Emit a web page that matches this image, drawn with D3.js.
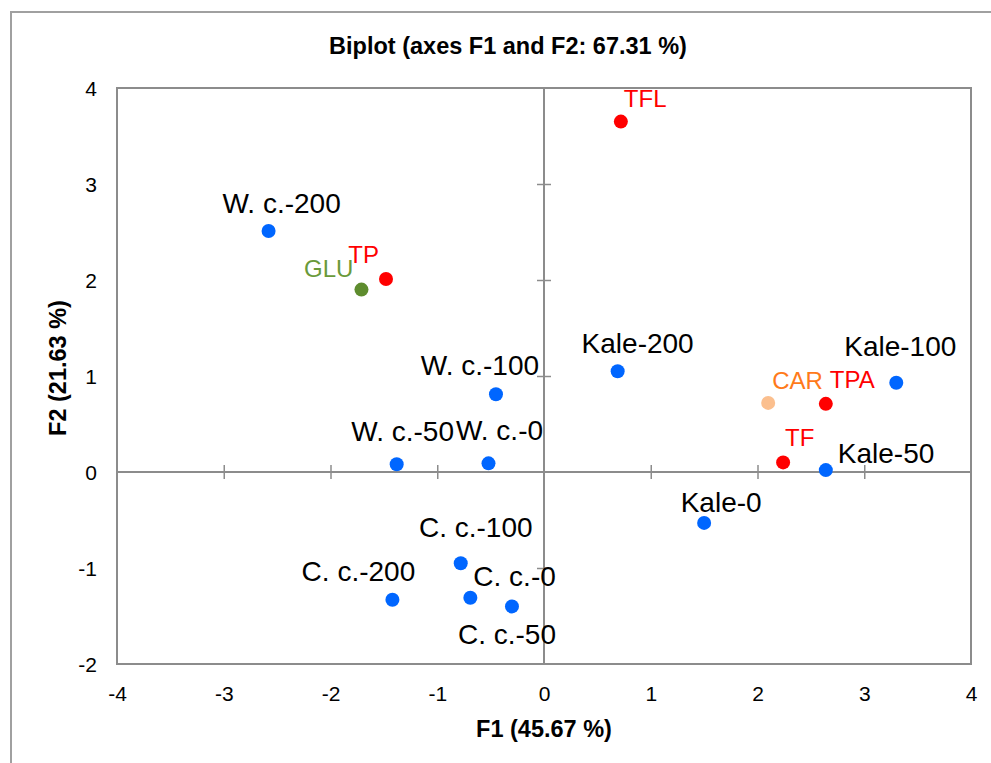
<!DOCTYPE html>
<html><head><meta charset="utf-8">
<script src="https://cdn.jsdelivr.net/npm/d3@7/dist/d3.min.js"></script>
<style>body{margin:0;background:#fff}svg{display:block;font-family:"Liberation Sans",Arial,sans-serif}</style>
</head><body><svg id="c" width="991" height="763"></svg>
<script>
// ---- data ----
const obsNames = ["W. c.-200","W. c.-100","W. c.-50","W. c.-0","C. c.-100","C. c.-200","C. c.-0","C. c.-50","Kale-200","Kale-100","Kale-50","Kale-0"];
const obsF1 = [-2.58,-0.45,-1.38,-0.52,-0.78,-1.42,-0.69,-0.30,0.69,3.30,2.64,1.50];
const obsF2 = [2.51,0.81,0.08,0.09,-0.95,-1.33,-1.31,-1.40,1.05,0.93,0.02,-0.53];
const varNames = ["TP","GLU","TFL","CAR","TPA","TF"];
const varF1 = [-1.48,-1.71,0.72,2.10,2.64,2.24];
const varF2 = [2.01,1.90,3.65,0.72,0.71,0.10];
const xTicks = [-4,-3,-2,-1,0,1,2,3,4];
const yTicks = [-2,-1,0,1,2,3,4];
const titleText = "Biplot (axes F1 and F2: 67.31 %)";
const xTitle = "F1 (45.67 %)";
const yTitle = "F2 (21.63 %)";

// ---- styles / layout (separate from data) ----
const varColors = {TP:"#ff0000",GLU:"#6a9a3a",TFL:"#ff0000",CAR:"#ff7a1a",TPA:"#ff0000",TF:"#ff0000"};
const varDotColors = {TP:"#ff0000",GLU:"#5e8c2e",TFL:"#ff0000",CAR:"#fbbf8e",TPA:"#ff0000",TF:"#ff0000"};
const obsLabelPos = {
 "W. c.-200":[13,-18,"middle"],"W. c.-100":[-16,-19,"middle"],"W. c.-50":[6,-23,"middle"],
 "W. c.-0":[11,-23,"middle"],"C. c.-100":[15,-26,"middle"],"C. c.-200":[-34,-19,"middle"],
 "C. c.-0":[3,-12,"start"],"C. c.-50":[-5,38,"middle"],"Kale-200":[20,-18,"middle"],
 "Kale-100":[4,-27,"middle"],"Kale-50":[12,-7,"start"],"Kale-0":[17,-11,"middle"]};
const varLabelPos = {TP:[-7,-16,"end"],GLU:[-8,-13,"end"],TFL:[3,-15,"start"],CAR:[4,-14,"start"],TPA:[4,-16,"start"],TF:[2,-16,"start"]};

const svg = d3.select("#c");
const L=117,R=971,T=88,B=664;
const x = d3.scaleLinear().domain([-4,4]).range([L,R]);
const y = d3.scaleLinear().domain([-2,4]).range([B,T]);
const grey="#8c8c8c";

// outer frame
svg.append("rect").attr("x",11).attr("y",12).attr("width",1100).attr("height",900)
  .attr("fill","none").attr("stroke","#a0a0a0").attr("stroke-width",2);

// title
svg.append("text").attr("x",508).attr("y",54).attr("text-anchor","middle")
  .attr("font-size",23.5).attr("font-weight","bold").text(titleText);

// plot frame
svg.append("rect").attr("x",L).attr("y",T).attr("width",R-L).attr("height",B-T)
  .attr("fill","none").attr("stroke",grey).attr("stroke-width",2);

// zero axes with ticks
const xAxisG = svg.append("g").attr("transform",`translate(0,${y(0)})`)
  .call(d3.axisBottom(x).tickValues(xTicks.filter(v=>v>-4&&v<4&&v!==0)).tickSize(0).tickFormat(""));
xAxisG.select(".domain").remove();
xAxisG.selectAll(".tick line").attr("y1",-7).attr("y2",7).attr("stroke",grey).attr("stroke-width",1.5);
svg.append("line").attr("x1",L).attr("x2",R).attr("y1",y(0)).attr("y2",y(0)).attr("stroke",grey).attr("stroke-width",2);

const yAxisG = svg.append("g").attr("transform",`translate(${x(0)},0)`)
  .call(d3.axisLeft(y).tickValues(yTicks.filter(v=>v>-2&&v<4&&v!==0)).tickSize(0).tickFormat(""));
yAxisG.select(".domain").remove();
yAxisG.selectAll(".tick line").attr("x1",-7).attr("x2",7).attr("stroke",grey).attr("stroke-width",1.5);
svg.append("line").attr("y1",T).attr("y2",B).attr("x1",x(0)).attr("x2",x(0)).attr("stroke",grey).attr("stroke-width",2);

// tick labels
const fmt = d => String(d);
const xl = svg.append("g").attr("transform",`translate(0,${B})`)
  .call(d3.axisBottom(x).tickValues(xTicks).tickSize(0).tickPadding(0).tickFormat(fmt));
xl.select(".domain").remove();
xl.selectAll("text").attr("font-size",21).attr("fill","#000").attr("font-family","Liberation Sans, Arial, sans-serif")
  .attr("dy",null).attr("y",37);
const yl = svg.append("g").attr("transform",`translate(${L},0)`)
  .call(d3.axisLeft(y).tickValues(yTicks).tickSize(0).tickPadding(0).tickFormat(fmt));
yl.select(".domain").remove();
yl.selectAll("text").attr("font-size",21).attr("fill","#000").attr("font-family","Liberation Sans, Arial, sans-serif")
  .attr("x",-20).attr("dy","0.36em");

// axis titles
svg.append("text").attr("x",(L+R)/2).attr("y",737).attr("text-anchor","middle")
  .attr("font-size",23.5).attr("font-weight","bold").text(xTitle);
svg.append("text").attr("transform","translate(66,368) rotate(-90)").attr("text-anchor","middle")
  .attr("font-size",23.5).attr("font-weight","bold").text(yTitle);

// observations
const obs = obsNames.map((n,i)=>({n,f1:obsF1[i],f2:obsF2[i]}));
svg.append("g").selectAll("circle").data(obs).join("circle")
  .attr("cx",d=>x(d.f1)).attr("cy",d=>y(d.f2)).attr("r",7).attr("fill","#0066ff");
svg.append("g").selectAll("text").data(obs).join("text")
  .attr("x",d=>x(d.f1)+obsLabelPos[d.n][0]).attr("y",d=>y(d.f2)+obsLabelPos[d.n][1])
  .attr("text-anchor",d=>obsLabelPos[d.n][2]).attr("font-size",28).attr("fill","#000")
  .text(d=>d.n);

// variables
const vars = varNames.map((n,i)=>({n,f1:varF1[i],f2:varF2[i]}));
svg.append("g").selectAll("circle").data(vars).join("circle")
  .attr("cx",d=>x(d.f1)).attr("cy",d=>y(d.f2)).attr("r",7).attr("fill",d=>varDotColors[d.n]);
svg.append("g").selectAll("text").data(vars).join("text")
  .attr("x",d=>x(d.f1)+varLabelPos[d.n][0]).attr("y",d=>y(d.f2)+varLabelPos[d.n][1])
  .attr("text-anchor",d=>varLabelPos[d.n][2]).attr("font-size",24).attr("fill",d=>varColors[d.n])
  .text(d=>d.n);
</script></body></html>
